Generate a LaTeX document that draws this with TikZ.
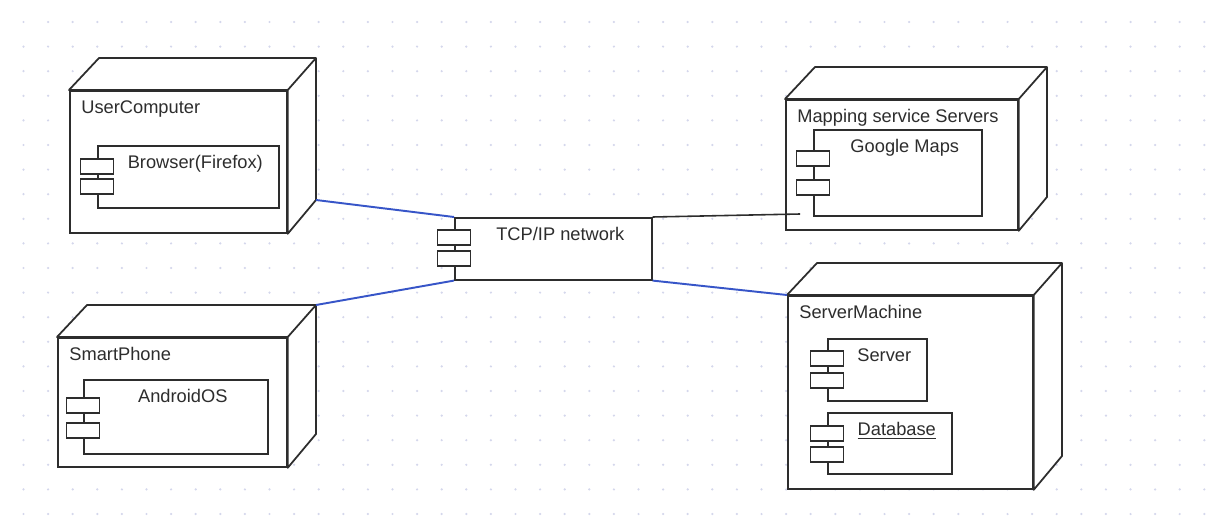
\documentclass[tikz,border=0pt]{standalone}
\usepackage{fontspec}
\setmainfont{Liberation Sans}
\usepackage{tikz}

\definecolor{inkgray}{RGB}{45,45,45}
\definecolor{linkblue}{RGB}{55,85,200}
\definecolor{dotgray}{RGB}{212,215,236}

\def\px{0.02cm}

% node: name, x, y, width, height, title
\newcommand\devnode[6]{
  \node[devface, minimum width=#4*\px, minimum height=#5*\px] (#1) at (#2,#3) {};
  \filldraw[devline, fill=white] (#1.north west) -- ++(30,-32) coordinate (#1-tl)
    -- ++(#4,0) coordinate (#1-tr) -- ++(0,#5) coordinate (#1-br)
    -- (#1.south east) -- (#1.north east) -- cycle;
  \draw[devline] (#1.north east) -- (#1-tr);
  \node[devtitle] (#1-title) at ([shift={(12,10)}]#1.north west) {#6};
}

% component: name, x, y, width, height, text, tab 1 offset, tab 2 offset
\newcommand\compnode[8]{
  \node[compface, minimum width=#4*\px, minimum height=#5*\px] (#1) at (#2,#3) {};
  \node[comptab] (#1-tab1) at ([shift={(0,#7)}]#1.north west) {};
  \node[comptab] (#1-tab2) at ([shift={(0,#8)}]#1.north west) {};
  \node[comptext] (#1-text) at ([shift={(7,10)}]#1.north) {#6};
}

\begin{document}
\begin{tikzpicture}[
    x=\px, y=-\px,
    devface/.style={rectangle, draw=inkgray, line width=1pt, fill=white, anchor=north west, inner sep=0},
    devline/.style={draw=inkgray, line width=1pt, line join=round},
    devtitle/.style={anchor=north west, inner sep=0, text=inkgray, font=\fontsize{10.4}{12}\selectfont},
    compface/.style={rectangle, draw=inkgray, line width=0.9pt, fill=white, anchor=north west, inner sep=0},
    comptab/.style={rectangle, draw=inkgray, line width=0.9pt, fill=white, anchor=north, inner sep=0,
      minimum width=33*\px, minimum height=15*\px},
    comptext/.style={anchor=north, inner sep=0, text=inkgray, font=\fontsize{10.4}{12}\selectfont},
    link/.style={draw=linkblue, line width=1.1pt},
    plainlink/.style={draw=inkgray, line width=0.9pt}
]
  \useasboundingbox[fill=white] (0,0) rectangle (1222,517);

  % grid
  \foreach \i in {0,...,49}
    \foreach \j in {0,...,20}
      \fill[dotgray] (23.5+24.6*\i, 22+24.6*\j) circle (0.7pt);

  \devnode{usercomp}{69}{90}{217}{142}{UserComputer}
  \compnode{browser}{97}{145}{181}{62}{Browser(Firefox)}{13}{33}

  \devnode{phone}{57}{337}{229}{129}{SmartPhone}
  \compnode{android}{83}{379}{184}{74}{AndroidOS}{18}{43}

  \compnode{tcp}{454}{217}{197}{62}{TCP/IP network}{12}{33}

  \devnode{mapsrv}{785}{99}{232}{130}{Mapping service Servers}
  \compnode{gmaps}{813}{129}{168}{86}{Google Maps}{21}{50}

  \devnode{servermc}{787}{295}{245}{193}{ServerMachine}
  \compnode{server}{827}{338}{99}{62}{Server}{12}{34}
  \compnode{dbase}{827}{412}{124}{61}{\underline{Database}}{13}{34}

  % links
  \coordinate (mapjoin) at (800,214);
  \draw[link] (usercomp-br) -- (tcp.north west);
  \draw[link] (phone-tr) -- (tcp.south west);
  \draw[link] (tcp.south east) -- (servermc.north west);
  \draw[plainlink] (tcp.north east) -- (mapjoin);
\end{tikzpicture}
\end{document}
